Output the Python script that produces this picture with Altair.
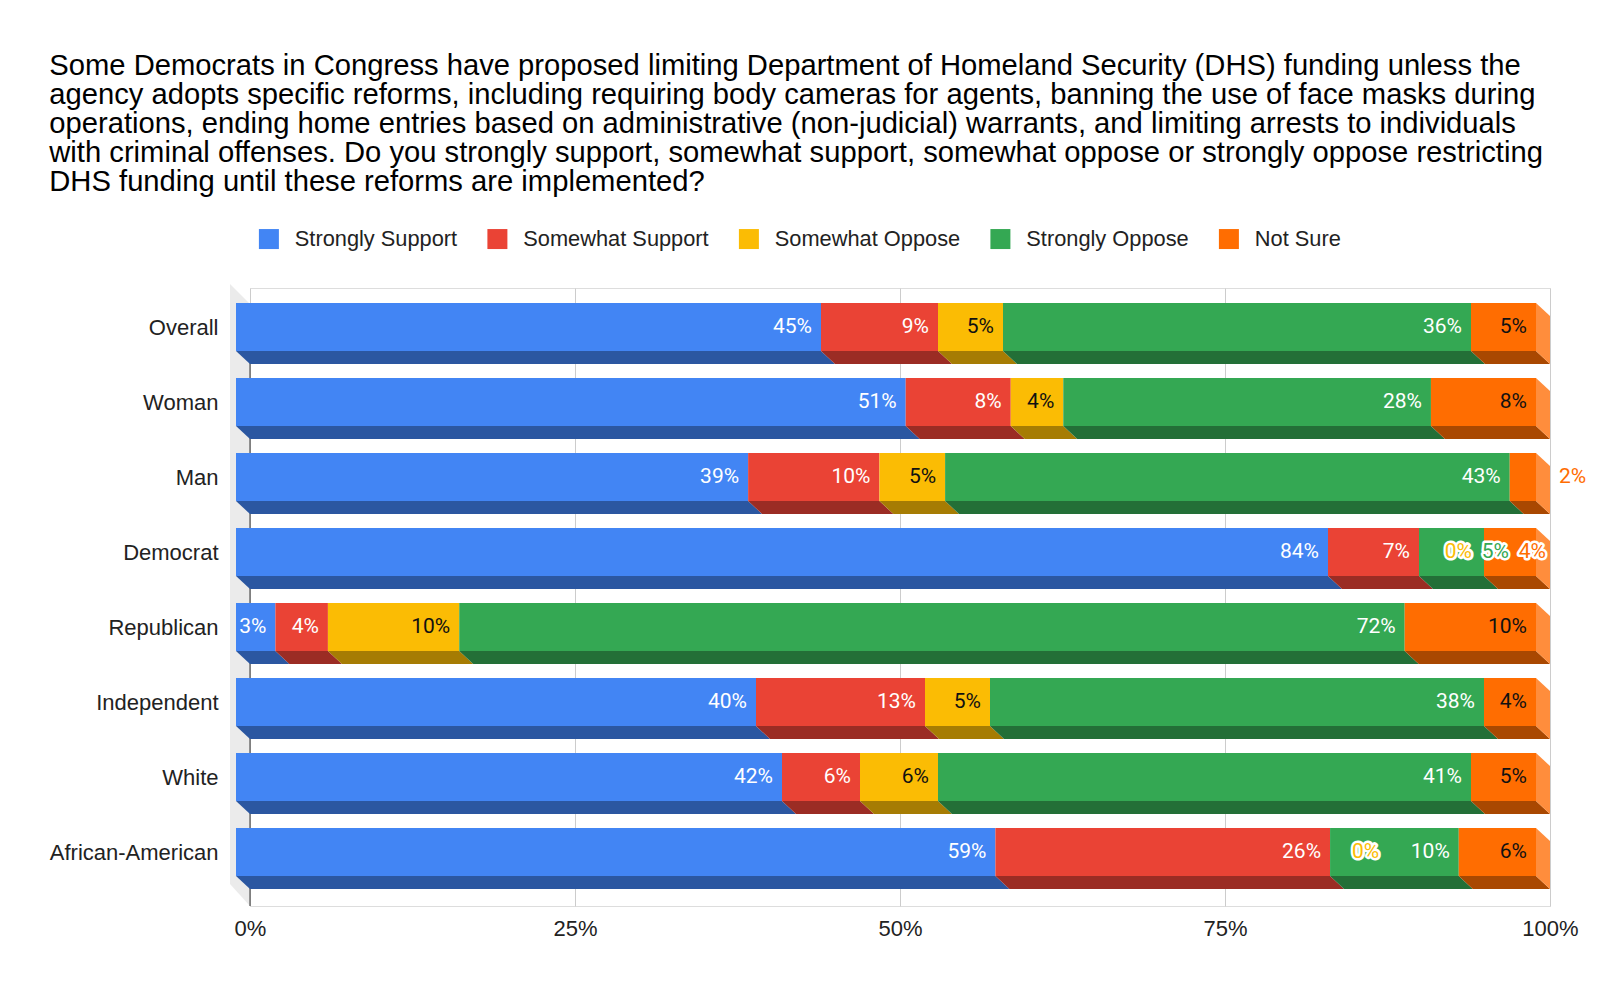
import json
import altair as alt
import pandas as pd

# ---------------- data ----------------
categories = ["Overall", "Woman", "Man", "Democrat", "Republican",
              "Independent", "White", "African-American"]
series = ["Strongly Support", "Somewhat Support", "Somewhat Oppose",
          "Strongly Oppose", "Not Sure"]
strongly_support = [45, 51, 39, 84, 3, 40, 42, 59]
somewhat_support = [9, 8, 10, 7, 4, 13, 6, 26]
somewhat_oppose = [5, 4, 5, 0, 10, 5, 6, 0]
strongly_oppose = [36, 28, 43, 5, 72, 38, 41, 10]
not_sure = [5, 8, 2, 4, 10, 4, 5, 6]
x_ticks = [0, 0.25, 0.5, 0.75, 1.0]

title_lines = [
    "Some Democrats in Congress have proposed limiting Department of Homeland Security (DHS) funding unless the",
    "agency adopts specific reforms, including requiring body cameras for agents, banning the use of face masks during",
    "operations, ending home entries based on administrative (non-judicial) warrants, and limiting arrests to individuals",
    "with criminal offenses. Do you strongly support, somewhat support, somewhat oppose or strongly oppose restricting",
    "DHS funding until these reforms are implemented?",
]

# ---------------- style ----------------
front_colors = ["#4285f4", "#ea4335", "#fbbc04", "#34a853", "#ff6d01"]
bottom_colors = ["#2b57a1", "#9b2c24", "#a67c03", "#236f37", "#a94801"]
side_color = "#ff8d3c"
text_colors = ["#ffffff", "#ffffff", "#111111", "#ffffff", "#111111"]

W, H = 1300, 618
STEP = 75.0
DX = 14 / W              # 3D depth shift, x (data units)
ROW_TOP = 15 / STEP      # front face top inside a row
FRONT = 48 / STEP        # front face height
DEPTH = 13 / STEP        # bottom face height
YMAX = H / STEP

values = [strongly_support, somewhat_support, somewhat_oppose, strongly_oppose, not_sure]

# label placement exceptions (labels that do not fit inside their segment)
overrides = {
    ("Democrat", "Not Sure"): ("R", "one", -4),
    ("Democrat", "Strongly Oppose"): ("R", "one", -41),
    ("Democrat", "Somewhat Oppose"): ("R", "one", -78),
    ("African-American", "Somewhat Oppose"): ("L", "start", 8),
    ("Man", "Not Sure"): ("L", "one", 9),
}

front_rows, bottom_rows, side_rows, label_rows = [], [], [], []
for i, cat in enumerate(categories):
    vals = [v[i] for v in values]
    total = float(sum(vals))
    top = i + ROW_TOP
    bot = top + FRONT
    dep = bot + DEPTH
    cum = 0.0
    for j, s in enumerate(series):
        start = cum / total
        cum += vals[j]
        end = cum / total
        key = f"{i}-{j}"
        front_rows.append(dict(series=s, x=start - DX, x2=end - DX, y=top, y2=bot))
        bottom_rows.append(dict(key=key, fill=bottom_colors[j], y=bot, x=start - DX, x2=end - DX))
        bottom_rows.append(dict(key=key, fill=bottom_colors[j], y=dep, x=start, x2=end))
        lab = f"{vals[j]}%"
        if (cat, s) in overrides:
            al, ref, off = overrides[(cat, s)]
            base = 1.0 if ref == "one" else start
            label_rows.append(dict(label=lab, lx=base + off / W, ly=top + FRONT / 2,
                                   align=al, halo=True, tc=front_colors[j]))
        else:
            label_rows.append(dict(label=lab, lx=end - DX - 9 / W, ly=top + FRONT / 2,
                                   align="R", halo=False, tc=text_colors[j]))
    side_rows.append(dict(row=i, x=1.0 - DX, y=top, y2=bot))
    side_rows.append(dict(row=i, x=1.0, y=top + DEPTH, y2=dep))

front_df = pd.DataFrame(front_rows)
bottom_df = pd.DataFrame(bottom_rows)
side_df = pd.DataFrame(side_rows)
label_df = pd.DataFrame(label_rows)
wall_df = pd.DataFrame([
    dict(x=-20 / W, y=-4 / STEP, y2=(884 - 288) / STEP),
    dict(x=0.0, y=(304 - 288) / STEP, y2=YMAX),
])
zero_df = pd.DataFrame([dict(x=0.0, y=ROW_TOP, y2=YMAX)])

FONT = "Liberation Sans"
xscale = alt.Scale(domain=[0, 1], nice=False, zero=False)
yscale = alt.Scale(domain=[0, YMAX], reverse=True, nice=False, zero=False)

label_expr = f"{json.dumps(categories)}[round(datum.value - {ROW_TOP + FRONT / 2})]"

wall = alt.Chart(wall_df).mark_area(orient="vertical", color="#ebebeb").encode(
    x=alt.X("x:Q", scale=xscale, stack=None,
            axis=alt.Axis(values=x_ticks, format=".0%", title=None, domain=False,
                          ticks=False, tickSize=0, grid=True, gridColor="#cccccc",
                          labelPadding=12, labelFontSize=22, labelFont=FONT,
                          labelColor="#222222", labelFlush=False)),
    y=alt.Y("y:Q", scale=yscale, stack=None,
            axis=alt.Axis(values=[k + ROW_TOP + FRONT / 2 for k in range(len(categories))],
                          labelExpr=label_expr, title=None, domain=False, ticks=False,
                          tickSize=0, grid=False, labelPadding=32, labelFontSize=22,
                          labelFont=FONT, labelColor="#222222", labelLimit=0)),
    y2="y2:Q",
)

zero_rule = alt.Chart(zero_df).mark_rule(color="#333333", strokeWidth=1).encode(
    x=alt.X("x:Q", scale=xscale), y=alt.Y("y:Q", scale=yscale), y2="y2:Q"
)

bottoms = alt.Chart(bottom_df).mark_area(orient="horizontal").encode(
    y=alt.Y("y:Q", scale=yscale, stack=None),
    x=alt.X("x:Q", scale=xscale, stack=None),
    x2="x2:Q",
    detail="key:N",
    fill=alt.Fill("fill:N", scale=None),
)

fronts = alt.Chart(front_df).mark_rect().encode(
    x=alt.X("x:Q", scale=xscale),
    x2="x2:Q",
    y=alt.Y("y:Q", scale=yscale),
    y2="y2:Q",
    color=alt.Color("series:N", sort=series,
                    scale=alt.Scale(domain=series, range=front_colors),
                    legend=alt.Legend(orient="none", legendX=8, legendY=-60,
                                      direction="horizontal", columns=5, title=None,
                                      symbolType="square", symbolSize=400,
                                      symbolStrokeWidth=0, symbolOpacity=1,
                                      labelFontSize=21.8, labelFont=FONT,
                                      labelColor="#222222", labelOffset=15,
                                      columnPadding=28.5, labelLimit=0)),
)

sides = alt.Chart(side_df).mark_area(orient="vertical", color=side_color).encode(
    x=alt.X("x:Q", scale=xscale, stack=None),
    y=alt.Y("y:Q", scale=yscale, stack=None),
    y2="y2:Q",
    detail="row:N",
)


def text_layer(align, halo_only, halo_stroke):
    df = label_df[label_df["align"] == align]
    if halo_only:
        df = df[df["halo"]]
    if halo_stroke:
        mk = alt.Chart(df).mark_text(align="right" if align == "R" else "left",
                                     baseline="middle", font="Roboto", fontSize=21,
                                     stroke="white", strokeWidth=5, strokeJoin="round",
                                     fill="white")
        return mk.encode(x=alt.X("lx:Q", scale=xscale), y=alt.Y("ly:Q", scale=yscale),
                         text="label:N")
    mk = alt.Chart(df).mark_text(align="right" if align == "R" else "left",
                                 baseline="middle", font="Roboto", fontSize=21)
    return mk.encode(x=alt.X("lx:Q", scale=xscale), y=alt.Y("ly:Q", scale=yscale),
                     text="label:N", fill=alt.Fill("tc:N", scale=None))


chart = alt.layer(
    wall, zero_rule, bottoms, fronts, sides,
    text_layer("R", True, True), text_layer("L", True, True),
    text_layer("R", False, False), text_layer("L", False, False),
).properties(
    width=W, height=H,
    padding={"left": 41, "top": 43, "right": 5, "bottom": 5},
    title=alt.TitleParams(text=title_lines, anchor="start", frame="bounds", font=FONT,
                          fontSize=29.2, fontWeight="normal", color="#000000",
                          lineHeight=29, offset=31),
).configure_view(stroke=None).configure(background="white")

chart.save("out.html", embed_options={"renderer": "svg", "actions": False})
